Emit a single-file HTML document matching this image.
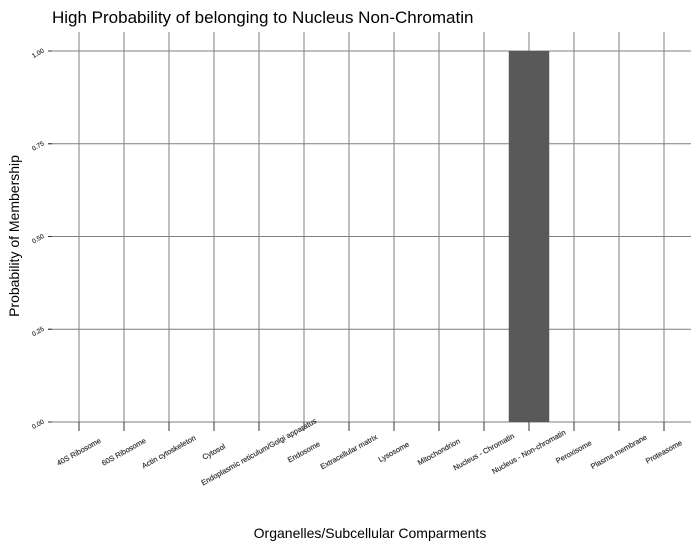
<!DOCTYPE html>
<html><head><meta charset="utf-8"><style>
body{margin:0;background:#fff;}
svg{display:block;font-family:"Liberation Sans",sans-serif;}
</style></head><body>
<svg id="chart" width="699" height="547">
<text x="52" y="23" font-size="17" fill="#000">High Probability of belonging to Nucleus Non-Chromatin</text>
<text x="370" y="538" font-size="14" text-anchor="middle" fill="#000">Organelles/Subcellular Comparments</text>
<text transform="translate(19,236) rotate(-90)" font-size="14" text-anchor="middle" fill="#000">Probability of Membership</text>
<g id="grid"></g><g id="bars"></g><g id="axes"></g>
</svg>
<script>
const categories=["40S Ribosome","60S Ribosome","Actin cytoskeleton","Cytosol","Endoplasmic reticulum/Golgi apparatus","Endosome","Extracellular matrix","Lysosome","Mitochondrion","Nucleus - Chromatin","Nucleus - Non-chromatin","Peroxisome","Plasma membrane","Proteasome"];
const values=[0,0,0,0,0,0,0,0,0,0,1,0,0,0];
const yTicks=[0,0.25,0.5,0.75,1];
const yTickLabels=["0.00","0.25","0.50","0.75","1.00"];
const NS="http://www.w3.org/2000/svg";
const pLeft=52,pRight=691,pTop=32;
const band=(pRight-pLeft)/(categories.length+0.2);
function xPos(i){return pLeft+band*0.6+band*i;}
function yPos(v){return 422-v*(422-51);}
function mk(tag,attrs,parent){const e=document.createElementNS(NS,tag);for(const k in attrs)e.setAttribute(k,attrs[k]);document.getElementById(parent).appendChild(e);return e;}
yTicks.forEach((t,i)=>{
  const l=mk('line',{x1:pLeft-4,x2:pRight,y1:yPos(t),y2:yPos(t),stroke:'#7f7f7f','stroke-width':1},'grid');
  
  
  const tk=mk('line',{x1:pLeft-4,x2:pLeft,y1:yPos(t),y2:yPos(t),stroke:'#333','stroke-width':1},'axes');
  
  
  const tx=mk('text',{x:0,y:0,'font-size':6.5,fill:'#333',stroke:'#333','stroke-width':0.2,'text-anchor':'middle',transform:`translate(${pLeft-13},${yPos(t)+4}) rotate(-30)`},'axes');
  tx.textContent=yTickLabels[i];
  
  
});
categories.forEach((c,i)=>{
  const x=xPos(i);
  const l=mk('line',{x1:x,x2:x,y1:pTop,y2:431,stroke:'#7f7f7f','stroke-width':1},'grid');
  
  
  const tk=mk('line',{x1:x,x2:x,y1:422,y2:431,stroke:'#333','stroke-width':1},'axes');
  
  
  const tx=mk('text',{x:0,y:0,'font-size':7.5,fill:'#333',stroke:'#333','stroke-width':0.2,'text-anchor':'middle',transform:`translate(${x+1},454) rotate(-29)`},'axes');
  tx.textContent=c;
  
  
  if(values[i]>0){
    const w=band*0.9;
    const r=mk('rect',{x:x-w/2,y:yPos(values[i]),width:w,height:yPos(0)-yPos(values[i]),fill:'#595959'},'bars');
    
    
  }
});
</script>
</body></html>
